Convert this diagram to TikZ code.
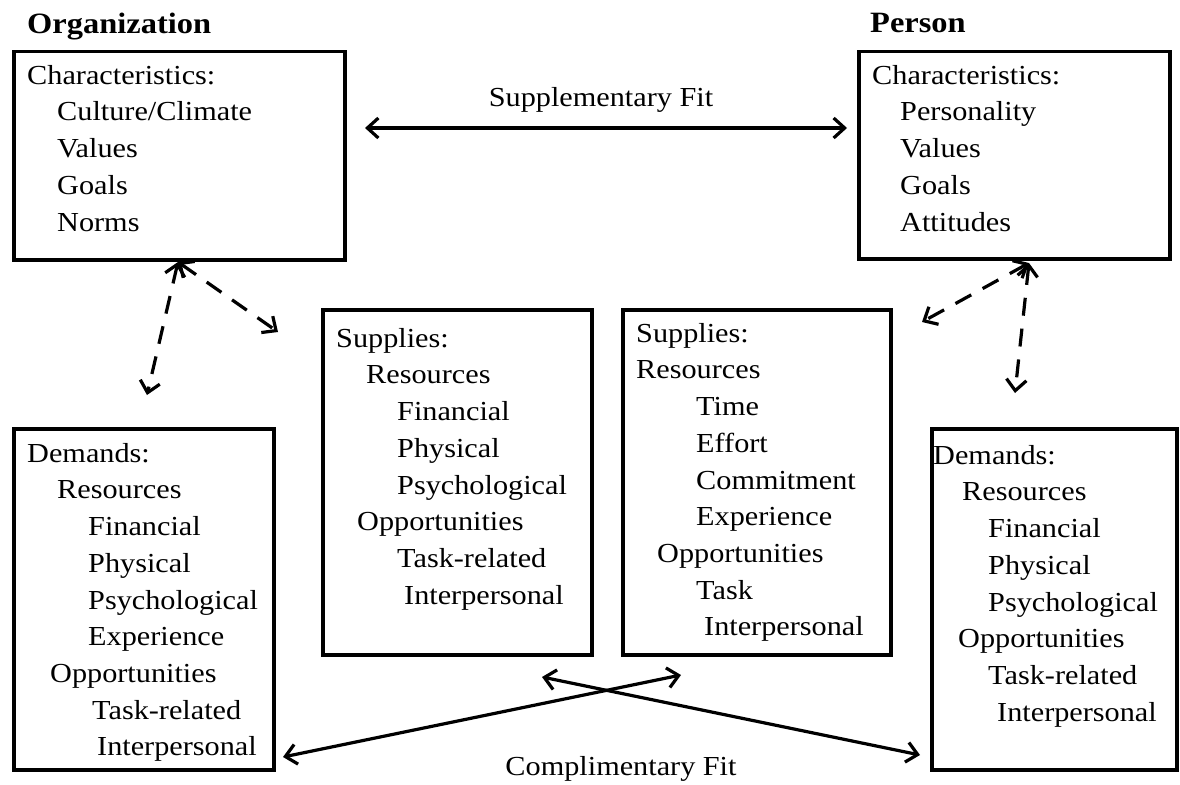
\documentclass[tikz,border=0pt]{standalone}
\usepackage{fontspec}
\setmainfont{Liberation Serif}[FakeStretch=1.1]
\usetikzlibrary{arrows.meta}

\tikzset{
    box/.style={draw, line width=3.5pt, anchor=north west, inner sep=0pt},
    list/.style={anchor=north west, inner sep=0pt, align=left,
        font=\fontsize{27.5pt}{36.7pt}\selectfont},
    heading/.style={anchor=north west, inner sep=0pt,
        font=\fontsize{29.5pt}{34pt}\selectfont\bfseries},
    fitlabel/.style={anchor=base, inner sep=0pt,
        font=\fontsize{27.5pt}{34pt}\selectfont},
    link/.style={line width=3.2pt,
        {Straight Barb[length=11pt,width=20pt]}-{Straight Barb[length=11pt,width=20pt]}},
    dashlink/.style={link, dash pattern=on 18pt off 13pt},
}

\begin{document}
\begin{tikzpicture}[x=1pt, y=-1pt]
    \useasboundingbox (0,0) rectangle (1180,784);

    % headings
    \node[heading] (orgtitle) at (27,13) {Organization};
    \node[heading] (pertitle) at (870,13) {Person};

    % frames
    \node[box, minimum width=331pt, minimum height=208pt] (orgchar) at (12,50) {};
    \node[box, minimum width=311pt, minimum height=207pt] (perchar) at (857,50) {};
    \node[box, minimum width=269pt, minimum height=345pt] (orgsup) at (321,308) {};
    \node[box, minimum width=268pt, minimum height=345pt] (persup) at (621,308) {};
    \node[box, minimum width=260pt, minimum height=341pt] (orgdem) at (12,427) {};
    \node[box, minimum width=245pt, minimum height=341pt] (perdem) at (930,427) {};

    % contents
    \node[list] (orgcharlist) at (27,65) {Characteristics:\\
        \hspace*{30pt}Culture/Climate\\
        \hspace*{30pt}Values\\
        \hspace*{30pt}Goals\\
        \hspace*{30pt}Norms};
    \node[list] (percharlist) at (872,65) {Characteristics:\\
        \hspace*{28pt}Personality\\
        \hspace*{28pt}Values\\
        \hspace*{28pt}Goals\\
        \hspace*{28pt}Attitudes};
    \node[list] (orgsuplist) at (336,328) {Supplies:\\
        \hspace*{30pt}Resources\\
        \hspace*{61pt}Financial\\
        \hspace*{61pt}Physical\\
        \hspace*{61pt}Psychological\\
        \hspace*{21pt}Opportunities\\
        \hspace*{61pt}Task-related\\
        \hspace*{68pt}Interpersonal};
    \node[list] (persuplist) at (636,323) {Supplies:\\
        Resources\\
        \hspace*{60pt}Time\\
        \hspace*{60pt}Effort\\
        \hspace*{60pt}Commitment\\
        \hspace*{60pt}Experience\\
        \hspace*{21pt}Opportunities\\
        \hspace*{60pt}Task\\
        \hspace*{68pt}Interpersonal};
    \node[list] (orgdemlist) at (27,443) {Demands:\\
        \hspace*{30pt}Resources\\
        \hspace*{61pt}Financial\\
        \hspace*{61pt}Physical\\
        \hspace*{61pt}Psychological\\
        \hspace*{61pt}Experience\\
        \hspace*{23pt}Opportunities\\
        \hspace*{65pt}Task-related\\
        \hspace*{70pt}Interpersonal};
    \node[list] (perdemlist) at (933,445) {Demands:\\
        \hspace*{29pt}Resources\\
        \hspace*{55pt}Financial\\
        \hspace*{55pt}Physical\\
        \hspace*{55pt}Psychological\\
        \hspace*{25pt}Opportunities\\
        \hspace*{55pt}Task-related\\
        \hspace*{64pt}Interpersonal};

    % fit labels
    \node[fitlabel] (suplabel) at (601,106) {Supplementary Fit};
    \node[fitlabel] (complabel) at (621,775) {Complimentary Fit};

    % arrow ends
    \coordinate (supL) at (365,128);
    \coordinate (supR) at (847,128);
    \coordinate (orgapex) at (178,262);
    \coordinate (orgdown) at (147,395);
    \coordinate (orgright) at (278,332);
    \coordinate (perapex) at (1029,263);
    \coordinate (perleft) at (922,322);
    \coordinate (perdown) at (1015,393);
    \coordinate (compA) at (542,677);
    \coordinate (compB) at (920,755);
    \coordinate (compC) at (681,675);
    \coordinate (compD) at (283,757);

    \draw[link] (supL) -- (supR);
    \draw[dashlink] (orgapex) -- (orgdown);
    \draw[dashlink] (orgapex) -- (orgright);
    \draw[dashlink] (perapex) -- (perleft);
    \draw[dashlink] (perapex) -- (perdown);
    \draw[link] (compA) -- (compB);
    \draw[link] (compC) -- (compD);

\end{tikzpicture}
\end{document}
